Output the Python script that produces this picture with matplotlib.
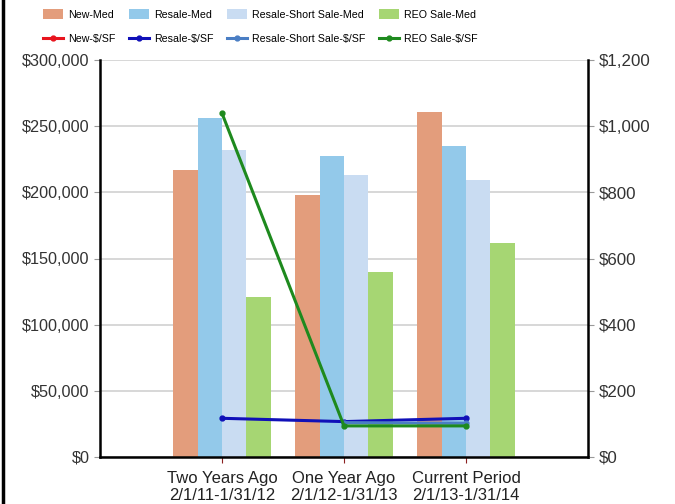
import numpy as np
import matplotlib
matplotlib.use("Agg")
import matplotlib.pyplot as plt
from matplotlib.lines import Line2D

plt.rcParams['font.family'] = ['Liberation Sans', 'DejaVu Sans']

categories = ["Two Years Ago\n2/1/11-1/31/12", "One Year Ago\n2/1/12-1/31/13", "Current Period\n2/1/13-1/31/14"]
new_med = [217000, 198000, 260500]
resale_med = [256000, 227500, 235000]
short_med = [232000, 213000, 209000]
reo_med = [121000, 140000, 162000]

new_psf = [np.nan, np.nan, np.nan]
resale_psf = [117, 107, 117]
short_psf = [np.nan, 104, 102]
reo_psf = [1039, 94, 94]

bar_names = ["New-Med", "Resale-Med", "Resale-Short Sale-Med", "REO Sale-Med"]
line_names = ["New-$/SF", "Resale-$/SF", "Resale-Short Sale-$/SF", "REO Sale-$/SF"]
bar_colors = ["#E39D7C", "#93C9EA", "#C9DCF2", "#A6D673"]
line_colors = ["#E8141E", "#1010B8", "#4A7EC4", "#1E8A1E"]

fig = plt.figure(figsize=(6.75, 5.04), dpi=100)
ax = fig.add_axes([100/675, 47/504, 488/675, 397/504])
ax2 = ax.twinx()

x = np.arange(len(categories))
w = 0.2
bars = []
for i, (vals, c) in enumerate(zip([new_med, resale_med, short_med, reo_med], bar_colors)):
    b = ax.bar(x + (i - 1.5) * w, vals, width=w, color=c, zorder=2)
    bars.append(b)

lines = []
for vals, c in zip([new_psf, resale_psf, short_psf, reo_psf], line_colors):
    l, = ax2.plot(x, vals, color=c, lw=2.2, marker='o', ms=3.5, zorder=3)
    lines.append(l)

ax.set_xlim(-1, 3)
ax.set_ylim(0, 300000)
ax2.set_ylim(0, 1200)
ax.set_yticks(np.arange(0, 300001, 50000))
ax.set_yticklabels([f"${v:,.0f}" for v in np.arange(0, 300001, 50000)])
ax2.set_yticks(np.arange(0, 1201, 200))
ax2.set_yticklabels([f"${v:,.0f}" for v in np.arange(0, 1201, 200)])
ax.set_xticks(x)
ax.set_xticklabels(categories, fontsize=12)
ax.grid(axis='y', color='#D4D4D4', lw=1.3, zorder=0)
ax.set_axisbelow(True)

for a in (ax, ax2):
    for s in a.spines.values():
        s.set_visible(False)
ax.spines['left'].set_visible(True)
ax.spines['bottom'].set_visible(True)
ax2.spines['right'].set_visible(True)
for s in [ax.spines['left'], ax.spines['bottom'], ax2.spines['right']]:
    s.set_color('black')
    s.set_linewidth(1.8)

ax.tick_params(axis='y', labelsize=11.7, color='#999999', length=4, labelcolor='#333333')
ax2.tick_params(axis='y', labelsize=12.2, color='#999999', length=4, labelcolor='#333333')
ax.tick_params(axis='x', color='#8B2020', length=4, labelcolor='#222222', pad=6)

handles = []
labels = []
for b, l, bn, ln in zip(bars, lines, bar_names, line_names):
    handles += [b, l]
    labels += [bn, ln]
fig.legend(handles, labels, loc='upper left', bbox_to_anchor=(43/675, 1 - 9/504), ncol=4,
           frameon=False, fontsize=7.7, handlelength=1.9, handleheight=1.1,
           columnspacing=1.25, labelspacing=1.25, handletextpad=0.45,
           borderpad=0, borderaxespad=0)

fig.add_artist(Line2D([3/675, 3/675], [0, 1], transform=fig.transFigure, color='black', lw=2.5))

fig.savefig("out.png", dpi=100)
